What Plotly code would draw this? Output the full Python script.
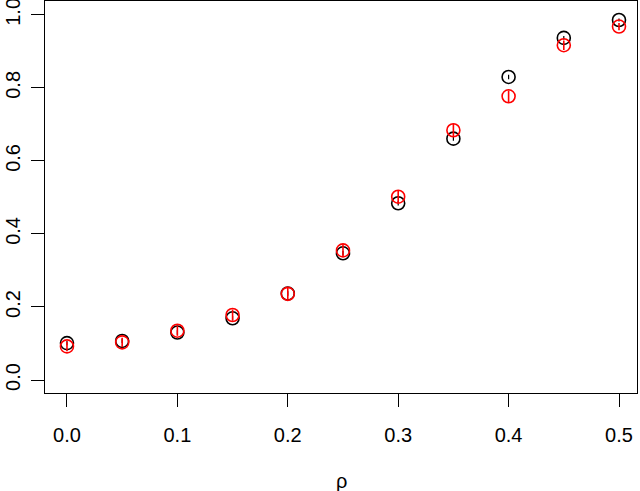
import plotly.graph_objects as go

rho = [0.0, 0.05, 0.1, 0.15, 0.2, 0.25, 0.3, 0.35, 0.4, 0.45, 0.5]
black_y = [0.101, 0.107, 0.130, 0.169, 0.237, 0.347, 0.484, 0.661, 0.830, 0.937, 0.986]
black_err = [0.006, 0.006, 0.006, 0.006, 0.006, 0.006, 0.006, 0.006, 0.006, 0.005, 0.004]
red_y = [0.092, 0.103, 0.135, 0.178, 0.236, 0.355, 0.502, 0.684, 0.777, 0.917, 0.968]
red_err = [0.013, 0.013, 0.014, 0.015, 0.016, 0.017, 0.018, 0.018, 0.016, 0.013, 0.010]

fig = go.Figure()
fig.add_trace(go.Scatter(
    x=rho, y=black_y, mode="markers",
    marker=dict(symbol="circle-open", size=13, color="black", line=dict(width=1.6)),
    error_y=dict(type="data", array=black_err, color="black", thickness=1.2, width=0),
))
fig.add_trace(go.Scatter(
    x=rho, y=red_y, mode="markers",
    marker=dict(symbol="circle-open", size=13, color="red", line=dict(width=1.6)),
    error_y=dict(type="data", array=red_err, color="red", thickness=1.6, width=0),
))

font = dict(family="Liberation Sans, Arial, sans-serif", size=20, color="black")
fig.update_layout(
    width=640, height=491, showlegend=False,
    paper_bgcolor="white", plot_bgcolor="white",
    margin=dict(l=45, r=3, t=1, b=98, autoexpand=False),
    font=font,
    xaxis=dict(range=[-0.0199, 0.5163], tickvals=[0, 0.1, 0.2, 0.3, 0.4, 0.5],
               ticktext=["0.0", "0.1", "0.2", "0.3", "0.4", "0.5"],
               showgrid=False, zeroline=False, showline=True, mirror=True,
               linecolor="black", linewidth=1.3, ticks="outside", ticklen=13,
               tickwidth=1.3, tickcolor="black", ticklabelstandoff=11,
               ticklabeloverflow="allow"),
    yaxis=dict(range=[-0.0356, 1.038], tickvals=[0, 0.2, 0.4, 0.6, 0.8, 1.0],
               ticktext=["0.0", "0.2", "0.4", "0.6", "0.8", "1.0"],
               showgrid=False, zeroline=False, showline=True, mirror=True,
               linecolor="black", linewidth=1.3, ticks="outside", ticklen=13,
               tickwidth=1.3, tickcolor="black", tickangle=-90, ticklabelstandoff=3,
               ticklabeloverflow="allow"),
)
fig.add_annotation(text="ρ", xref="paper", yref="paper", x=0.5, y=0, yshift=-88,
                   showarrow=False, font=font, yanchor="middle")

fig.write_html("out.html", config={"displayModeBar": False},
               post_script="document.body.style.margin='0';")
